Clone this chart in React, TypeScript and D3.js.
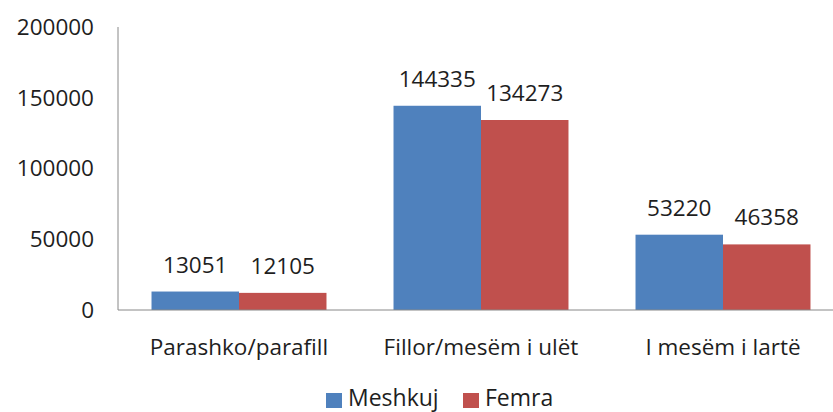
import React, { useEffect, useRef } from 'react';
import * as d3 from 'd3';

const categories = ['Parashko/parafill', 'Fillor/mesëm i ulët', 'I mesëm i lartë'];
const seriesNames = ['Meshkuj', 'Femra'];
const meshkuj = [13051, 144335, 53220];
const femra = [12105, 134273, 46358];
const yTicks = [0, 50000, 100000, 150000, 200000];
const colors = ['#4F81BD', '#C0504D'];

const W = 833;
const H = 412;
const FONT = "'Open Sans', sans-serif";
const FS = '22.5px';

export default function App() {
	const ref = useRef<SVGSVGElement>(null);

	useEffect(() => {
		const svg = d3.select(ref.current);
		svg.selectAll('*').remove();

		const left = 118, right = 844, top = 27, bottom = 310;

		const x0 = d3.scaleBand<string>()
			.domain(categories)
			.range([left, right])
			.paddingInner(0.277)
			.paddingOuter(0.1385);

		const x1 = d3.scaleBand<string>()
			.domain(seriesNames)
			.range([0, x0.bandwidth()]);

		const y = d3.scaleLinear().domain([0, 200000]).range([bottom, top]);

		const values = [meshkuj, femra];

		// y tick labels
		svg.append('g').selectAll('text')
			.data(yTicks)
			.enter().append('text')
			.attr('x', 94)
			.attr('y', d => y(d))
			.attr('dy', '0.35em')
			.attr('text-anchor', 'end')
			.style('font-family', FONT)
			.style('font-size', FS)
			.attr('fill', '#1e1e1e')
			.text(d => d);

		// bars
		seriesNames.forEach((s, si) => {
			const g = svg.append('g');
			g.selectAll('rect')
				.data(values[si])
				.enter().append('rect')
				.attr('x', (d, i) => (x0(categories[i]) as number) + (x1(s) as number))
				.attr('y', d => y(d))
				.attr('width', x1.bandwidth())
				.attr('height', d => bottom - y(d))
				.attr('fill', colors[si]);

			g.selectAll('text')
				.data(values[si])
				.enter().append('text')
				.attr('x', (d, i) => (x0(categories[i]) as number) + (x1(s) as number) + x1.bandwidth() / 2)
				.attr('y', d => y(d) - 19)
				.attr('text-anchor', 'middle')
				.style('font-family', FONT)
				.style('font-size', FS)
				.attr('fill', '#1e1e1e')
				.text(d => d);
		});

		// axes lines
		svg.append('line')
			.attr('x1', left).attr('x2', left)
			.attr('y1', top).attr('y2', bottom)
			.attr('stroke', '#888').attr('stroke-width', 1);
		svg.append('line')
			.attr('x1', left).attr('x2', W)
			.attr('y1', bottom).attr('y2', bottom)
			.attr('stroke', '#888').attr('stroke-width', 1);

		// category labels
		svg.append('g').selectAll('text')
			.data(categories)
			.enter().append('text')
			.attr('x', d => (x0(d) as number) + x0.bandwidth() / 2)
			.attr('y', 355)
			.attr('text-anchor', 'middle')
			.style('font-family', FONT)
			.style('font-size', FS)
			.attr('fill', '#1e1e1e')
			.text(d => d);

		// legend
		const legendX = [326, 463];
		const legend = svg.append('g');
		seriesNames.forEach((s, si) => {
			legend.append('rect')
				.attr('x', legendX[si]).attr('y', 393)
				.attr('width', 16).attr('height', 15)
				.attr('fill', colors[si]);
			legend.append('text')
				.attr('x', legendX[si] + 22).attr('y', 406)
				.style('font-family', FONT)
				.style('font-size', '23px')
				.attr('fill', '#1e1e1e')
				.text(s);
		});
	}, []);

	return (
		<svg ref={ref} width={W} height={H}
			style={{ position: 'absolute', left: 0, top: 0, background: '#fff' }} />
	);
}
